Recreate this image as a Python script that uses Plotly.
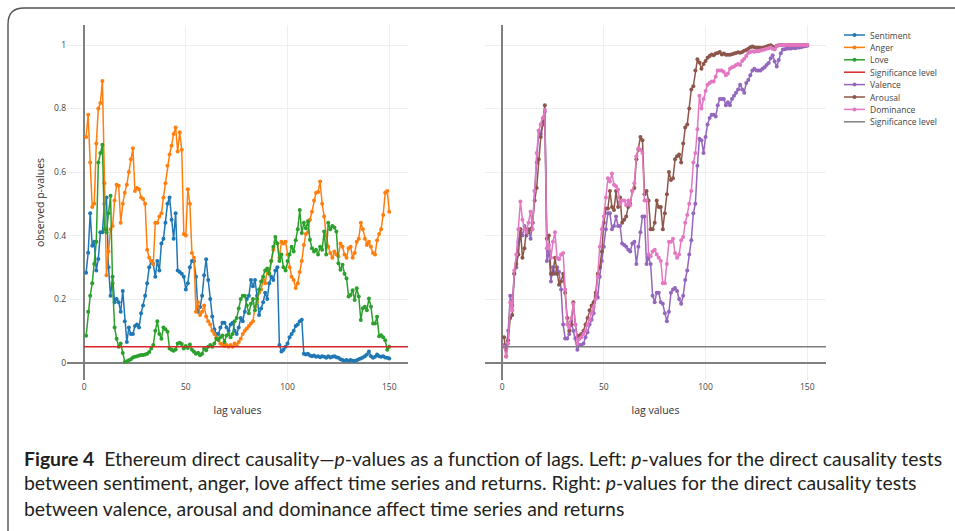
import plotly.graph_objects as go

W, H = 955, 531

# ---------------- data ----------------
sentiment = [0.283, 0.346, 0.47, 0.368, 0.38, 0.29, 0.326, 0.41, 0.41, 0.50,
             0.52, 0.30, 0.21, 0.27, 0.19, 0.20, 0.19, 0.16, 0.225, 0.13,
             0.065, 0.11, 0.09, 0.09, 0.115, 0.12, 0.11, 0.155, 0.18, 0.21,
             0.25, 0.30, 0.32, 0.31, 0.27, 0.32, 0.29, 0.375, 0.39, 0.44,
             0.50, 0.52, 0.45, 0.39, 0.47, 0.29, 0.285, 0.28, 0.27, 0.23,
             0.25, 0.30, 0.32, 0.32, 0.27, 0.16, 0.175, 0.21, 0.275, 0.325,
             0.26, 0.20, 0.145, 0.105, 0.09, 0.09, 0.11, 0.125, 0.125, 0.11,
             0.10, 0.12, 0.125, 0.10, 0.09, 0.11, 0.14, 0.13, 0.16, 0.20,
             0.21, 0.26, 0.24, 0.26, 0.21, 0.15, 0.17, 0.19, 0.22, 0.20,
             0.25, 0.27, 0.26, 0.29, 0.30, 0.055, 0.035, 0.04, 0.05, 0.06,
             0.08, 0.09, 0.10, 0.115, 0.12, 0.13, 0.135, 0.028, 0.025, 0.028,
             0.022, 0.02, 0.022, 0.018, 0.02, 0.017, 0.02, 0.018, 0.015, 0.02,
             0.016, 0.018, 0.02, 0.017, 0.015, 0.01, 0.008, 0.006, 0.008, 0.005,
             0.008, 0.006, 0.005, 0.007, 0.01, 0.013, 0.016, 0.02, 0.025, 0.035,
             0.02, 0.015, 0.018, 0.025, 0.02, 0.018, 0.02, 0.016, 0.015, 0.013]

anger = [0.71, 0.78, 0.63, 0.49, 0.50, 0.69, 0.80, 0.817, 0.887, 0.565,
         0.275, 0.35, 0.42, 0.43, 0.51, 0.56, 0.557, 0.44, 0.50, 0.535,
         0.56, 0.60, 0.64, 0.675, 0.54, 0.55, 0.546, 0.52, 0.515, 0.50,
         0.355, 0.33, 0.32, 0.31, 0.44, 0.44, 0.46, 0.47, 0.52, 0.565,
         0.62, 0.655, 0.683, 0.72, 0.74, 0.665, 0.725, 0.67, 0.405, 0.40,
         0.546, 0.50, 0.345, 0.33, 0.16, 0.19, 0.15, 0.16, 0.18, 0.145,
         0.13, 0.12, 0.10, 0.09, 0.08, 0.07, 0.06, 0.057, 0.052, 0.055,
         0.05, 0.055, 0.05, 0.06, 0.055, 0.065, 0.075, 0.09, 0.10, 0.107,
         0.115, 0.123, 0.13, 0.175, 0.19, 0.22, 0.23, 0.26, 0.25, 0.29,
         0.28, 0.32, 0.355, 0.38, 0.375, 0.33, 0.38, 0.375, 0.38, 0.34,
         0.30, 0.27, 0.26, 0.235, 0.25, 0.285, 0.32, 0.37, 0.405, 0.41,
         0.45, 0.475, 0.51, 0.535, 0.537, 0.57, 0.50, 0.46, 0.40, 0.365,
         0.345, 0.33, 0.35, 0.34, 0.335, 0.375, 0.365, 0.34, 0.33, 0.36,
         0.365, 0.33, 0.345, 0.38, 0.39, 0.44, 0.42, 0.39, 0.37, 0.38,
         0.365, 0.345, 0.34, 0.385, 0.405, 0.42, 0.465, 0.535, 0.54, 0.475]

love = [0.084, 0.16, 0.21, 0.25, 0.31, 0.38, 0.63, 0.66, 0.686, 0.42,
        0.41, 0.47, 0.525, 0.25, 0.11, 0.075, 0.05, 0.06, 0.03, 0.002,
        0.004, 0.007, 0.01, 0.016, 0.018, 0.02, 0.022, 0.024, 0.024, 0.025,
        0.028, 0.033, 0.044, 0.055, 0.10, 0.13, 0.09, 0.075, 0.11, 0.105,
        0.097, 0.044, 0.04, 0.037, 0.041, 0.06, 0.062, 0.058, 0.044, 0.052,
        0.046, 0.057, 0.04, 0.034, 0.028, 0.031, 0.023, 0.028, 0.044, 0.039,
        0.05, 0.055, 0.05, 0.06, 0.075, 0.072, 0.08, 0.085, 0.065, 0.085,
        0.09, 0.08, 0.09, 0.13, 0.14, 0.17, 0.20, 0.21, 0.21, 0.18,
        0.155, 0.185, 0.20, 0.165, 0.20, 0.23, 0.255, 0.27, 0.29, 0.296,
        0.28, 0.32, 0.365, 0.395, 0.375, 0.32, 0.34, 0.30, 0.29, 0.32,
        0.34, 0.365, 0.35, 0.385, 0.42, 0.48, 0.408, 0.44, 0.423, 0.445,
        0.387, 0.36, 0.35, 0.355, 0.34, 0.365, 0.355, 0.413, 0.34, 0.44,
        0.42, 0.43, 0.425, 0.413, 0.313, 0.292, 0.308, 0.28, 0.265, 0.208,
        0.213, 0.228, 0.197, 0.234, 0.208, 0.134, 0.171, 0.176, 0.165, 0.202,
        0.176, 0.123, 0.123, 0.144, 0.083, 0.086, 0.08, 0.07, 0.04, 0.05]

valence = [0.055, 0.04, 0.10, 0.21, 0.18, 0.28, 0.30, 0.38, 0.42, 0.40,
           0.43, 0.40, 0.42, 0.39, 0.44, 0.54, 0.63, 0.73, 0.72, 0.76,
           0.79, 0.32, 0.35, 0.255, 0.30, 0.28, 0.30, 0.285, 0.23, 0.12,
           0.076, 0.076, 0.09, 0.13, 0.10, 0.076, 0.04, 0.055, 0.055, 0.06,
           0.08, 0.095, 0.12, 0.135, 0.155, 0.21, 0.205, 0.27, 0.32, 0.365,
           0.42, 0.47, 0.47, 0.42, 0.43, 0.46, 0.43, 0.43, 0.375, 0.37,
           0.365, 0.355, 0.35, 0.375, 0.38, 0.31, 0.365, 0.41, 0.46, 0.46,
           0.31, 0.33, 0.31, 0.21, 0.19, 0.22, 0.22, 0.19, 0.185, 0.155,
           0.13, 0.16, 0.22, 0.23, 0.235, 0.225, 0.20, 0.185, 0.21, 0.26,
           0.29, 0.34, 0.385, 0.47, 0.50, 0.62, 0.705, 0.70, 0.66, 0.71,
           0.75, 0.77, 0.78, 0.78, 0.775, 0.81, 0.83, 0.83, 0.83, 0.81,
           0.82, 0.81, 0.83, 0.84, 0.85, 0.86, 0.875, 0.86, 0.85, 0.88,
           0.89, 0.905, 0.92, 0.925, 0.92, 0.92, 0.92, 0.925, 0.93, 0.937,
           0.943, 0.958, 0.968, 0.948, 0.932, 0.953, 0.974, 0.986, 0.987, 0.989,
           0.989, 0.989, 0.991, 0.99, 0.992, 0.992, 0.993, 0.995, 0.996, 0.998]

arousal = [0.08, 0.02, 0.07, 0.14, 0.15, 0.28, 0.31, 0.34, 0.42, 0.33,
           0.36, 0.42, 0.41, 0.42, 0.44, 0.51, 0.55, 0.64, 0.71, 0.75,
           0.81, 0.39, 0.40, 0.28, 0.28, 0.33, 0.28, 0.245, 0.255, 0.28,
           0.22, 0.14, 0.10, 0.12, 0.19, 0.12, 0.08, 0.085, 0.09, 0.10,
           0.12, 0.14, 0.165, 0.18, 0.19, 0.22, 0.28, 0.30, 0.35, 0.44,
           0.485, 0.485, 0.54, 0.49, 0.48, 0.54, 0.49, 0.52, 0.44, 0.45,
           0.46, 0.49, 0.50, 0.54, 0.55, 0.64, 0.67, 0.71, 0.70, 0.53,
           0.54, 0.51, 0.42, 0.42, 0.44, 0.51, 0.49, 0.49, 0.42, 0.47,
           0.53, 0.60, 0.575, 0.58, 0.64, 0.65, 0.655, 0.63, 0.69, 0.74,
           0.75, 0.80, 0.86, 0.87, 0.92, 0.955, 0.945, 0.925, 0.94, 0.95,
           0.96, 0.965, 0.97, 0.968, 0.973, 0.975, 0.978, 0.97, 0.973, 0.969,
           0.969, 0.969, 0.971, 0.973, 0.975, 0.977, 0.976, 0.978, 0.982, 0.984,
           0.988, 0.993, 0.995, 0.993, 0.991, 0.992, 0.991, 0.991, 0.993, 0.995,
           0.998, 0.999, 0.995, 0.992, 0.998, 0.999, 1.0, 1.0, 0.999, 1.0,
           1.0, 1.0, 1.0, 1.0, 1.0, 1.0, 1.0, 1.0, 1.0, 1.0]

dominance = [0.05, 0.018, 0.06, 0.19, 0.165, 0.29, 0.34, 0.42, 0.507, 0.45,
             0.42, 0.41, 0.44, 0.475, 0.42, 0.54, 0.66, 0.73, 0.75, 0.77,
             0.795, 0.36, 0.37, 0.33, 0.38, 0.41, 0.33, 0.325, 0.34, 0.345,
             0.23, 0.12, 0.11, 0.14, 0.185, 0.12, 0.06, 0.075, 0.08, 0.09,
             0.10, 0.12, 0.135, 0.155, 0.175, 0.20, 0.27, 0.365, 0.42, 0.46,
             0.52, 0.58, 0.57, 0.595, 0.56, 0.555, 0.545, 0.50, 0.51, 0.51,
             0.495, 0.51, 0.495, 0.54, 0.565, 0.65, 0.675, 0.67, 0.66, 0.51,
             0.51, 0.34, 0.335, 0.35, 0.355, 0.34, 0.33, 0.32, 0.25, 0.25,
             0.31, 0.38, 0.38, 0.39, 0.345, 0.33, 0.34, 0.385, 0.395, 0.44,
             0.465, 0.50, 0.54, 0.63, 0.66, 0.735, 0.84, 0.80, 0.83, 0.855,
             0.875, 0.88, 0.885, 0.885, 0.90, 0.92, 0.92, 0.92, 0.915, 0.905,
             0.91, 0.925, 0.93, 0.932, 0.937, 0.94, 0.937, 0.95, 0.957, 0.965,
             0.975, 0.978, 0.98, 0.979, 0.98, 0.98, 0.983, 0.984, 0.986, 0.988,
             0.99, 0.992, 0.988, 0.986, 0.996, 0.999, 1.0, 1.0, 1.0, 1.0,
             1.0, 1.0, 1.0, 1.0, 1.0, 1.0, 1.0, 1.0, 1.0, 1.0]

sig_x = [0, 160]
sig_level = [0.05, 0.05]

x_ticks = [0, 50, 100, 150]
y_ticks = [0, 0.2, 0.4, 0.6, 0.8, 1]
y_tick_text = ["0", "0.2", "0.4", "0.6", "0.8", "1"]

left_names = ["Sentiment", "Anger", "Love", "Significance level"]
right_names = ["Valence", "Arousal", "Dominance", "Significance level"]
left_colors = ["#1f77b4", "#ff7f0e", "#2ca02c", "#d62728"]
right_colors = ["#9467bd", "#8c564b", "#e377c2", "#7f7f7f"]

caption_lines = [
    "<b>Figure 4</b>  Ethereum direct causality\u2014<i>p</i>-values as a function of lags. "
    "Left: <i>p</i>-values for the direct causality tests",
    "between sentiment, anger, love affect time series and returns. "
    "Right: <i>p</i>-values for the direct causality tests",
    "between valence, arousal and dominance affect time series and returns",
]


def px(x):
    return x / W


def py(y):
    return 1 - y / H


# ---------------- figure ----------------
fig = go.Figure()

for name, color, vals in zip(left_names[:3], left_colors[:3], [sentiment, anger, love]):
    fig.add_trace(go.Scatter(x=list(range(1, len(vals) + 1)), y=vals, name=name,
                             mode="lines+markers", line=dict(color=color, width=1.5),
                             marker=dict(color=color, size=4), xaxis="x", yaxis="y",
                             showlegend=False))
fig.add_trace(go.Scatter(x=sig_x, y=sig_level, name=left_names[3], mode="lines",
                         line=dict(color=left_colors[3], width=1.5), xaxis="x", yaxis="y",
                         showlegend=False))

for name, color, vals in zip(right_names[:3], right_colors[:3], [valence, arousal, dominance]):
    fig.add_trace(go.Scatter(x=list(range(1, len(vals) + 1)), y=vals, name=name,
                             mode="lines+markers", line=dict(color=color, width=1.5),
                             marker=dict(color=color, size=4), xaxis="x2", yaxis="y2",
                             showlegend=False))
fig.add_trace(go.Scatter(x=sig_x, y=sig_level, name=right_names[3], mode="lines",
                         line=dict(color=right_colors[3], width=1.5), xaxis="x2", yaxis="y2",
                         showlegend=False))

ydom = [py(380), py(25)]
common_x = dict(range=[-8.4, 159.2], tickvals=x_ticks, showgrid=True, gridcolor="#eeeeee",
                zeroline=True, zerolinecolor="#808080", zerolinewidth=1.6, showline=False,
                ticks="", tickfont=dict(size=8.5, color="#444"), automargin=False)
common_y = dict(range=[-0.055, 1.063], tickvals=y_ticks, ticktext=y_tick_text, showgrid=True,
                gridcolor="#eeeeee", zeroline=True, zerolinecolor="#808080", zerolinewidth=1.6,
                showline=False, ticks="", tickfont=dict(size=8.5, color="#444"),
                automargin=False, domain=ydom)

title_font = dict(size=10.5, color="#333")
fig.update_layout(
    width=W, height=H, template="none",
    margin=dict(l=0, r=0, t=0, b=0, pad=0),
    paper_bgcolor="white", plot_bgcolor="white", showlegend=False,
    font=dict(family="Open Sans, Arial, sans-serif", size=8.5, color="#444"),
    xaxis=dict(domain=[px(67), px(408)], anchor="y",
               title=dict(text="lag values", standoff=16, font=title_font), **common_x),
    xaxis2=dict(domain=[px(485), px(826)], anchor="y2",
                title=dict(text="lag values", standoff=16, font=title_font), **common_x),
    yaxis=dict(anchor="x", title=dict(text="observed p-values", standoff=7, font=title_font),
               **common_y),
    yaxis2=dict(anchor="x2", showticklabels=False, **common_y),
)

# manual legend (compact, as in reference)
legend_names = left_names + right_names
legend_colors = left_colors + right_colors
row0, row_step = 35.0, 12.4
for i, (name, color) in enumerate(zip(legend_names, legend_colors)):
    yy = row0 + i * row_step
    fig.add_shape(type="line", xref="paper", yref="paper", x0=px(844), x1=px(865),
                  y0=py(yy), y1=py(yy), line=dict(color=color, width=1.5))
    if name != "Significance level":
        fig.add_shape(type="circle", xref="paper", yref="paper",
                      x0=px(852.5), x1=px(856.5), y0=py(yy + 2), y1=py(yy - 2),
                      fillcolor=color, line=dict(color=color, width=0))
    fig.add_annotation(x=px(868), y=py(yy), xref="paper", yref="paper", text=name,
                       showarrow=False, xanchor="left", yanchor="middle",
                       font=dict(size=8.5, color="#444"))

# frame of the figure panel
frame = (f"M {px(8)},{py(531)} L {px(8)},{py(24)} "
         f"Q {px(8)},{py(8)} {px(24)},{py(8)} L {px(955)},{py(8)}")
fig.add_shape(type="path", xref="paper", yref="paper", path=frame,
              line=dict(color="#555555", width=1.4))

# caption
for i, line in enumerate(caption_lines):
    fig.add_annotation(x=px(22), y=py(458 + 25 * i), xref="paper", yref="paper", text=line,
                       showarrow=False, xanchor="left", yanchor="middle",
                       font=dict(family="Lato, sans-serif", size=19.4, color="#231f20"))

fig.write_html("out.html")
